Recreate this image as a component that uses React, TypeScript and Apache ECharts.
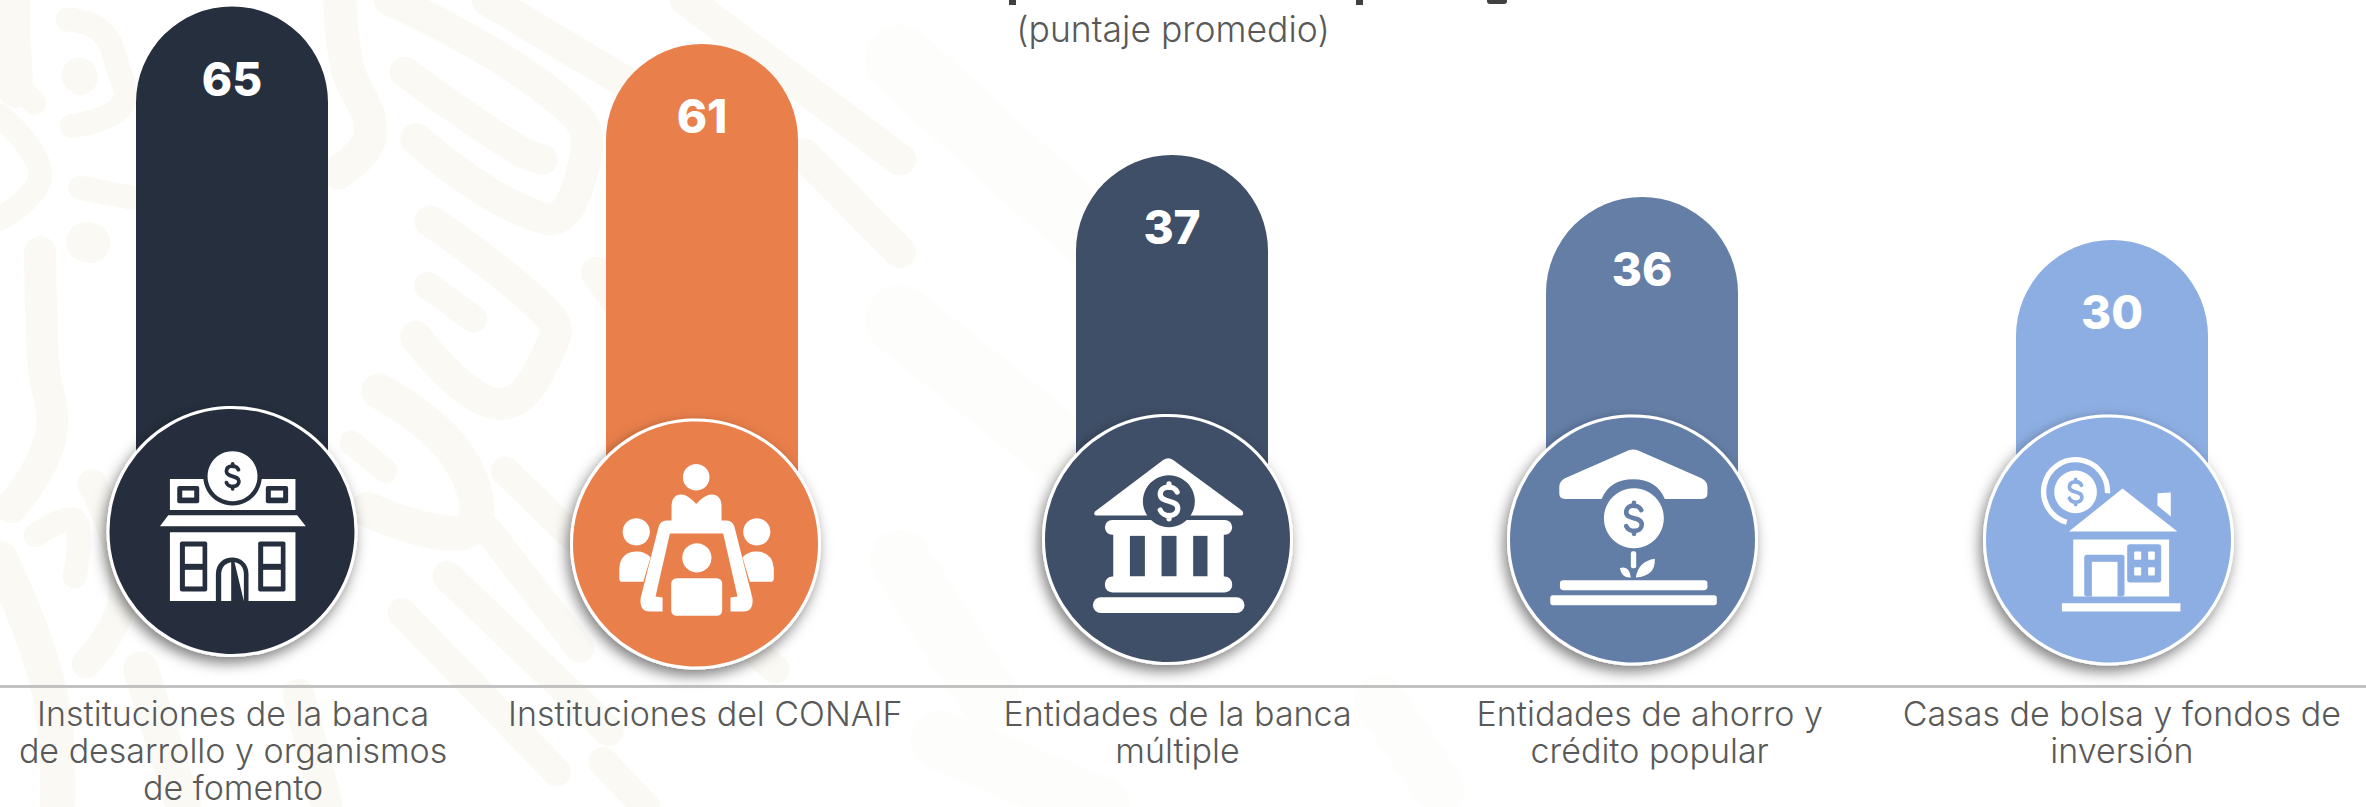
import React, { useEffect, useRef } from "react";
import * as echarts from "echarts";

// ---- data ----
const barCategories = ["65", "61", "37", "36", "30"];
const values = [65, 61, 37, 36, 30];
// The reference is an infographic: its bars are not proportional to the printed score,
// so the drawn height of each bar is read separately (axis units = height above the bar foot).
const barHeights = [533.5, 496, 385, 343, 300];
const categories = [
  "Instituciones de la banca\nde desarrollo y organismos\nde fomento",
  "Instituciones del CONAIF\n\n",
  "Entidades de la banca\nmúltiple\n",
  "Entidades de ahorro y\ncrédito popular\n",
  "Casas de bolsa y fondos de\ninversión\n",
];
const colors = ["#262F3E", "#E97F4B", "#3F4F67", "#647EA6", "#8DAEE2"];
const subtitle = "(puntaje promedio)";
const FONT = "Inter";
const TEXT = "#595959";
const W = "#ffffff";

// ---- decorative icon outlines (coordinates: 3x crop space) ----
const pathDefs: Record<string, string> = {
  dollar: "M14,-16 C9,-28 -15,-28 -15,-12 C-15,4 15,-4 15,12 C15,28 -10,28 -15,15 M0,-30 L0,-24 M0,24 L0,30",
  door1: "M378,634 L378,553 C378,486 476,486 476,553 L476,634 Z",
  door2: "M394,634 L394,553 C394,532 408,519 424,517 L424,634 Z",
  door3: "M434,517 C450,519 462,532 462,553 L462,634 Z",
  torsoTop: "M335,365 L335,320 Q335,285 365,284 Q382,284 409,312 Q436,284 455,284 Q485,285 485,320 L485,365 Z",
  table: "M320,362 Q300,362 295,385 L242,595 Q238,635 270,635 L308,635 L308,593 L287,590 L330,401 L490,401 L533,590 L512,593 L512,635 L550,635 Q582,635 578,595 L525,385 Q520,362 500,362 Z",
  sideL: "M178,535 L178,505 Q182,455 232,455 Q255,455 272,472 L250,546 L188,546 Q178,546 178,535 Z",
  sideR: "M642,535 L642,505 Q638,455 588,455 Q565,455 548,472 L570,546 L632,546 Q642,546 642,535 Z",
  roof3: "M195,335 L400,180 Q415,170 430,180 L638,333 Q645,347 630,347 L203,347 Q188,347 195,335 Z",
  roof4: "M178,260 Q178,245 195,235 L385,152 Q400,146 415,152 L605,235 Q623,245 623,260 L623,280 Q623,297 605,297 L495,297 Q470,238 400,238 Q330,238 305,297 L195,297 Q178,297 178,280 Z",
  leafL: "M360,505 Q388,495 393,533 Q365,535 360,505 Z",
  leafR: "M408,533 Q415,485 465,477 Q467,530 408,533 Z",
};
Object.entries(pathDefs).forEach(([k, d]) => {
  echarts.graphic.registerShape(k, echarts.graphic.extendPath(d, {}));
});

let zc = 1;
const rect = (x0: number, x1: number, y0: number, y1: number, fill: string, r = 0) => ({
  type: "rect", shape: { x: x0, y: y0, width: x1 - x0, height: y1 - y0, r }, style: { fill },
});
const circ = (cx: number, cy: number, r: number, fill: string) => ({ type: "circle", shape: { cx, cy, r }, style: { fill } });
const poly = (points: number[][], fill: string, extra: any = {}) => ({ type: "polygon", shape: { points }, style: { fill, ...extra } });
const shp = (type: string, fill: string) => ({ type, style: { fill } });
const place = (ox: number, oy: number, parts: any[]) =>
  parts.map((p) => ({ x: ox, y: oy, scaleX: 1 / 3, scaleY: 1 / 3, z: 10, z2: zc++, silent: true, ...p }));
const dollar = (ox: number, oy: number, cx: number, cy: number, s: number, color: string, lw = 11) => ({
  type: "dollar", x: ox + cx / 3, y: oy + cy / 3, scaleX: s / 3, scaleY: s / 3, z: 10, z2: zc++, silent: true,
  style: { fill: "none", stroke: color, lineWidth: lw, lineCap: "round", lineJoin: "round" },
});

const disc = (cx: number, cy: number, color: string) => ({
  type: "circle", z: 10, z2: zc++, silent: true,
  shape: { cx, cy, r: 124 },
  style: { fill: color, stroke: W, lineWidth: 3, shadowBlur: 14, shadowOffsetX: -3, shadowOffsetY: 6, shadowColor: "rgba(0,0,0,0.5)" },
});

const icons = () => {
  const out: any[] = [];
  // 1 - bank building
  let c = colors[0]; let ox = 90, oy = 390;
  out.push(disc(232, 531.5, c));
  out.push(...place(ox, oy, [
    rect(240, 617, 267, 360, W), circ(428, 259, 88, c), circ(428, 259, 75, W),
    rect(262, 328, 288, 340, c, 6), rect(277, 313, 302, 323, W),
    rect(528, 595, 288, 340, c, 6), rect(543, 580, 302, 323, W),
    poly([[210, 409], [235, 376], [622, 376], [648, 409]], W),
    rect(240, 617, 427, 634, W),
    rect(270, 352, 455, 605, c, 6), rect(285, 338, 470, 522, W), rect(285, 338, 540, 590, W),
    rect(505, 587, 455, 605, c, 6), rect(520, 573, 470, 522, W), rect(520, 573, 540, 590, W),
    shp("door1", c), shp("door2", W), shp("door3", W),
  ]));
  out.push(dollar(ox, oy, 428, 259, 1.25, c, 9));
  // 2 - meeting
  c = colors[1]; ox = 560; oy = 400;
  out.push(disc(695.5, 544, c));
  out.push(...place(ox, oy, [
    circ(409, 232, 40, W), shp("torsoTop", W), shp("table", W),
    circ(229, 396, 41, W), circ(591, 396, 41, W), shp("sideL", W), shp("sideR", W),
    circ(411, 474, 44, W), rect(334, 487, 535, 648, W, 16),
  ]));
  // 3 - classical bank
  c = colors[2]; ox = 1030; oy = 400;
  out.push(disc(1167.5, 539.5, c));
  out.push(...place(ox, oy, [
    shp("roof3", W), rect(225, 607, 360, 405, W, 22), rect(250, 582, 400, 535, W),
    rect(300, 345, 408, 530, c), rect(395, 440, 408, 530, c), rect(490, 533, 408, 530, c),
    rect(225, 607, 530, 578, W, 22), rect(189, 644, 592, 640, W, 24),
    circ(417, 304, 78, c),
  ]));
  out.push(dollar(ox, oy, 417, 304, 1.75, W, 9));
  // 4 - savings plant
  c = colors[3]; ox = 1500; oy = 400;
  out.push(disc(1632.5, 540, c));
  out.push(...place(ox, oy, [
    shp("roof4", W), circ(402, 355, 90, W), rect(393, 409, 454, 505, W, 6),
    shp("leafL", W), shp("leafR", W),
    rect(180, 623, 541, 571, W, 10), rect(151, 651, 586, 616, W, 8),
  ]));
  out.push(dollar(ox, oy, 402, 355, 1.55, c, 9));
  // 5 - house and coin
  c = colors[4]; ox = 1970; oy = 400;
  out.push(disc(2108.5, 540, c));
  out.push(...place(ox, oy, [
    { type: "arc", shape: { cx: 317, cy: 275, r: 96, startAngle: (106 * Math.PI) / 180, endAngle: (363 * Math.PI) / 180, clockwise: true }, style: { fill: "none", stroke: W, lineWidth: 16 } },
    circ(317, 276, 64, W),
    poly([[297, 395], [458, 266], [623, 395]], c, { stroke: c, lineWidth: 20 }),
    poly([[297, 395], [458, 266], [623, 395]], W),
    poly([[563, 280], [603, 278], [603, 350], [563, 317]], W),
    rect(310, 598, 419, 590, W),
    rect(343, 464, 465, 590, c, 8), rect(366, 443, 486, 590, W),
    rect(472, 574, 433, 548, c, 8),
    rect(493, 514, 455, 480, W, 3), rect(535, 555, 455, 480, W, 3),
    rect(493, 514, 502, 527, W, 3), rect(535, 555, 502, 527, W, 3),
    rect(276, 632, 610, 635, W),
  ]));
  out.push(dollar(ox, oy, 317, 276, 1.25, c, 9));
  return out;
};

// ---- decorative background strokes (coordinates: crop 1 view space) ----
const SX = 1 / 1.742, SY = 1 / 1.943;
const bgStrokes: [number, number[][]][] = [
  [44, [[22, 0], [24, 100], [28, 175]]],
  [30, [[118, 38], [175, 60], [205, 130], [212, 205], [125, 245]]],
  [44, [[138, 146], [140, 150]]],
  [42, [[592, 0], [605, 130], [645, 260], [590, 335]]],
  [30, [[0, 225], [70, 340], [0, 425]]],
  [30, [[140, 365], [235, 385]]],
  [50, [[150, 470], [158, 472]]],
  [40, [[70, 490], [75, 700], [88, 850], [20, 985]]],
  [38, [[705, 140], [900, 290], [945, 310]]],
  [40, [[725, 270], [950, 425], [1010, 350], [1000, 220], [680, 0]]],
  [40, [[750, 430], [945, 600], [965, 660], [870, 785], [725, 655]]],
  [34, [[745, 555], [825, 620]]],
  [40, [[850, 0], [1090, 160]]],
  [40, [[1195, 0], [1568, 310]]],
  [40, [[1400, 300], [1568, 490]]],
  [40, [[1040, 530], [1150, 700]]],
  [44, [[660, 760], [800, 890], [815, 1030], [640, 990]]],
  [30, [[612, 860], [672, 915]]],
  [36, [[880, 915], [1000, 1045]]],
  [36, [[850, 1030], [1010, 1260]]],
  [38, [[780, 1120], [1060, 1420]]],
  [36, [[700, 1190], [970, 1500]]],
  [44, [[0, 1085], [85, 1340], [100, 1568]]],
  [30, [[62, 1040], [130, 1012], [130, 1120]]],
  [36, [[160, 940], [215, 1150], [150, 1290]]],
  [44, [[245, 1300], [320, 1568]]],
  [40, [[520, 1350], [570, 1568]]],
  [36, [[1050, 1480], [1125, 1568]]],
  [36, [[1100, 1050], [1350, 1300]]],
  [30, [[0, 130], [60, 200]]],
];
const bgFaint: [number, number[][]][] = [
  [70, [[900, 60], [1120, 260]]],
  [70, [[900, 320], [1100, 480]]],
  [60, [[900, 560], [990, 700]]],
  [60, [[940, 740], [1100, 807]]],
  [50, [[1380, 700], [1440, 790]]],
];
const bgElements = () => [
  ...bgFaint.map(([w, pts]) => ({
    type: "polyline", z: 0, silent: true, shape: { points: pts, smooth: 0.4 },
    style: { fill: "none", stroke: "#FDFDFB", lineWidth: w, lineCap: "round", lineJoin: "round" },
  })),
  ...bgStrokes.map(([w, pts]) => ({
    type: "polyline", z: 0, silent: true,
    shape: { points: pts.map(([x, y]) => [x * SX, y * SY]), smooth: 0.45 },
    style: { fill: "none", stroke: "#FAF9F4", lineWidth: w * 0.8, lineCap: "round", lineJoin: "round" },
  })),
];

// ---- clipped title: only the descender tips are visible in the reference ----
const titleTips = () => [
  { type: "rect", z: 1, silent: true, shape: { x: 1009, y: 0, width: 7, height: 5 }, style: { fill: "#404040" } },
  { type: "rect", z: 1, silent: true, shape: { x: 1356, y: 0, width: 7, height: 5 }, style: { fill: "#404040" } },
  { type: "rect", z: 1, silent: true, shape: { x: 1487, y: 0, width: 20, height: 4, r: [0, 0, 3, 3] }, style: { fill: "#404040" } },
];

export default function App() {
  const ref = useRef<HTMLDivElement>(null);
  useEffect(() => {
    const chart = echarts.init(ref.current!, null, { renderer: "svg" });
    zc = 1;
    chart.setOption({
      animation: false,
      backgroundColor: "#ffffff",
      title: {
        text: subtitle, left: 1168, top: 6, textAlign: "center",
        textStyle: { fontFamily: FONT, fontSize: 35.5, fontWeight: 300, color: TEXT },
      },
      grid: [
        { left: -3, width: 2350, top: 0, height: 540, outerBoundsMode: "none" },
        { left: -3, width: 2361, top: 687, height: 1, outerBoundsMode: "none" },
      ],
      xAxis: [
        { type: "category", gridIndex: 0, data: barCategories, show: false },
        {
          type: "category", gridIndex: 1, data: categories,
          axisLine: { show: false }, axisTick: { show: false },
          axisLabel: { interval: 0, margin: 7, fontFamily: FONT, fontSize: 34, fontWeight: 300, color: TEXT, lineHeight: 37, verticalAlign: "top" },
        },
      ],
      yAxis: [
        { type: "value", gridIndex: 0, min: 0, max: 540, show: false },
        { type: "value", gridIndex: 1, min: 0, max: 1, show: false },
      ],
      series: [
        {
          type: "bar", xAxisIndex: 0, yAxisIndex: 0, barWidth: 192,
          data: barHeights.map((v, i) => ({ value: v, itemStyle: { color: colors[i], borderRadius: [96, 96, 0, 0] } })),
          label: {
            show: true, position: "insideTop", distance: 49,
            formatter: (p: any) => String(values[p.dataIndex]),
            fontFamily: FONT, fontSize: 46, fontWeight: 800, color: "#ffffff",
          },
        },
      ],
      graphic: {
        elements: [
          ...bgElements(),
          ...titleTips(),
          { type: "rect", z: 1, silent: true, shape: { x: 0, y: 685, width: 2366, height: 3 }, style: { fill: "#C2C2C2" } },
          ...icons(),
        ],
      },
    });
    return () => chart.dispose();
  }, []);
  return <div ref={ref} style={{ position: "fixed", left: 0, top: 0, width: 2366, height: 807 }} />;
}
